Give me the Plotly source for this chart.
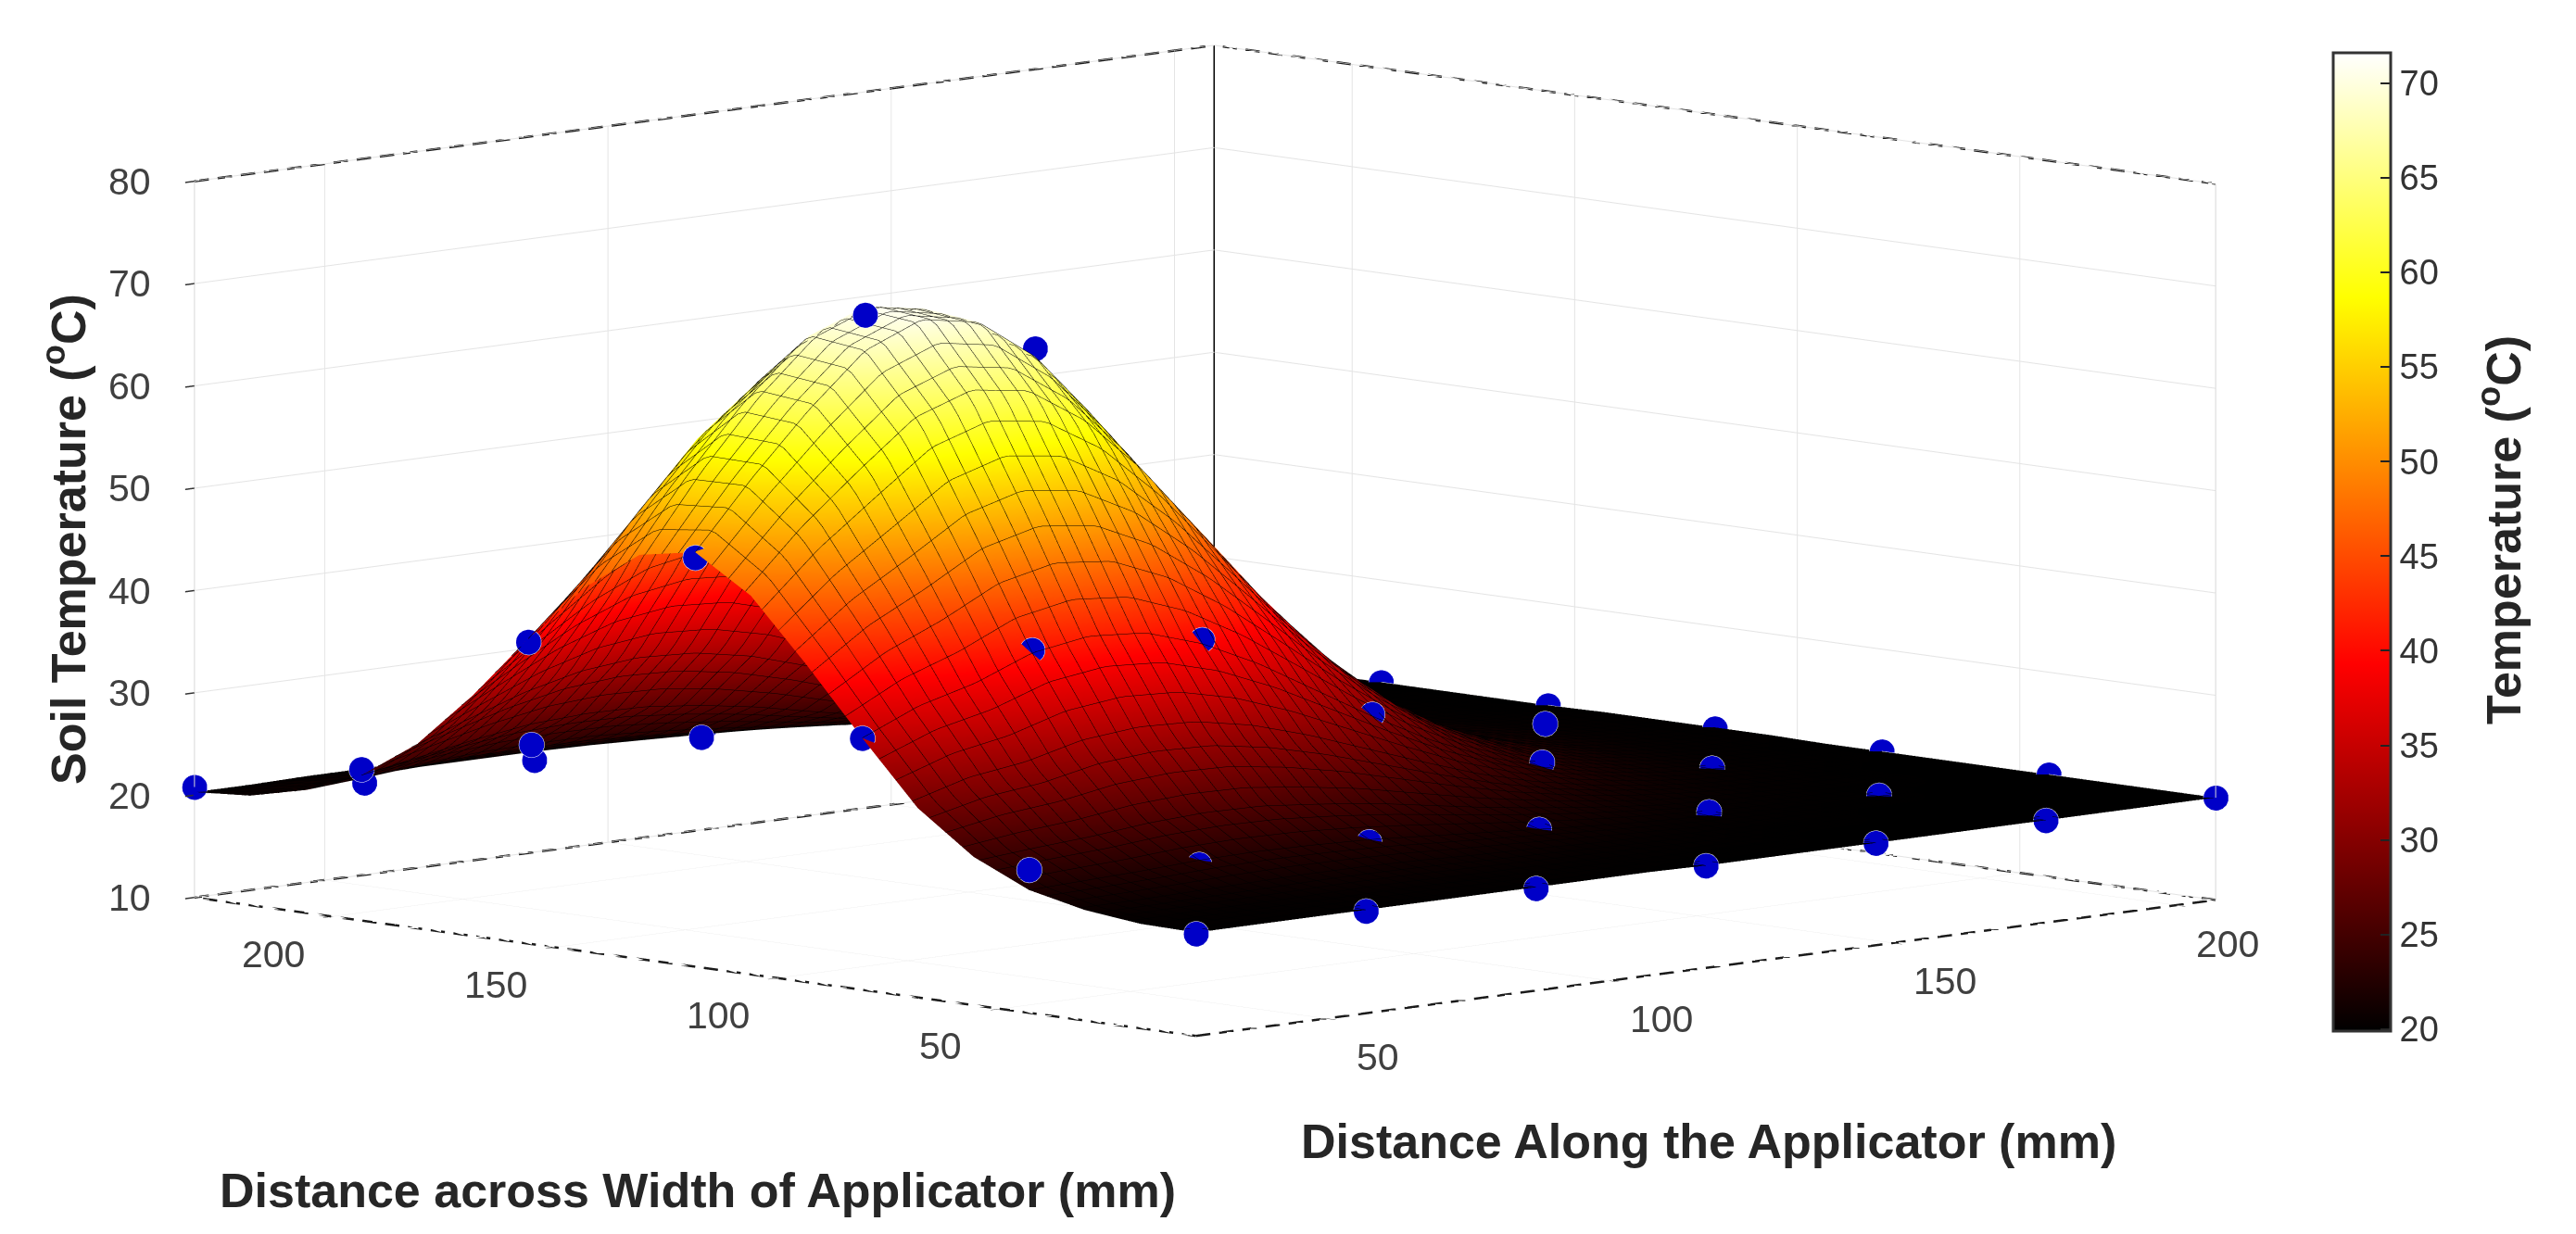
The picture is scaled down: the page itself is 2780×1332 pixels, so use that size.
import plotly.graph_objects as go
import numpy as np

x_mm = [27, 37, 47, 57, 67, 77, 87, 97, 107, 117, 127, 137, 147, 157, 167, 177, 187, 197, 207]
y_mm = [6, 18.5, 31, 43.5, 56, 68.5, 81, 93.5, 106, 118.5, 131, 143.5, 156, 168.5, 181, 193.5, 206, 218.5, 231]

# soil temperature, one row per x_mm value, one column per y_mm value
temp = [
 [20.1,20.2,20.8,22.0,24.5,28.5,34.6,41.0,47.0,50.5,49.5,45.5,39.8,33.5,28.0,24.2,22.0,20.7,20.3],
 [20.1,20.3,20.8,22.2,25.0,30.0,37.0,45.0,52.5,57.0,57.0,52.5,45.0,37.0,30.1,25.2,22.4,21.0,20.3],
 [20.1,20.3,20.9,22.4,25.4,30.7,38.5,48.0,57.1,62.9,63.5,58.6,49.9,40.3,32.1,26.2,22.9,21.1,20.4],
 [20.1,20.3,21.0,22.7,26.0,32.0,40.7,51.3,61.5,68.0,68.7,63.1,53.5,42.7,33.5,27.0,23.2,21.3,20.4],
 [20.1,20.4,21.1,22.8,26.3,32.5,41.6,52.8,63.4,70.3,70.9,65.2,55.0,43.7,34.1,27.3,23.3,21.3,20.5],
 [20.1,20.4,21.1,22.7,26.2,32.3,41.2,52.1,62.6,69.3,69.9,64.3,54.3,43.3,33.8,27.2,23.3,21.3,20.5],
 [20.1,20.3,21.0,22.5,25.6,31.3,39.4,49.4,59.0,65.2,65.8,60.6,51.5,41.3,32.7,26.6,23.0,21.2,20.4],
 [20.1,20.3,20.8,22.1,24.9,29.7,36.7,45.3,53.6,58.8,59.4,54.9,47.1,38.3,30.9,25.7,22.6,21.0,20.4],
 [20.1,20.2,20.7,21.7,23.9,27.8,33.4,40.4,47.0,51.2,51.6,48.1,41.8,34.8,28.8,24.5,22.1,20.8,20.3],
 [20.0,20.2,20.5,21.3,22.9,25.9,30.1,35.3,40.3,43.5,43.8,41.1,36.4,31.1,26.6,23.4,21.6,20.6,20.2],
 [20.0,20.1,20.4,20.9,22.1,24.1,27.1,30.8,34.3,36.6,36.8,34.9,31.6,27.8,24.7,22.4,21.1,20.4,20.2],
 [20.0,20.1,20.2,20.6,21.4,22.7,24.7,27.1,29.4,30.9,31.1,29.8,27.6,25.2,23.1,21.6,20.7,20.3,20.1],
 [20.0,20.0,20.1,20.4,20.8,21.7,22.9,24.4,25.8,26.7,26.8,26.1,24.7,23.2,21.9,21.0,20.4,20.2,20.1],
 [20.0,20.0,20.1,20.2,20.5,21.0,21.7,22.5,23.4,23.9,24.0,23.5,22.7,21.8,21.1,20.6,20.3,20.1,20.0],
 [20.0,20.0,20.0,20.1,20.3,20.5,20.9,21.4,21.9,22.1,22.2,21.9,21.5,21.0,20.6,20.3,20.1,20.1,20.0],
 [20.0,20.0,20.0,20.1,20.1,20.3,20.5,20.7,20.9,21.1,21.1,21.0,20.7,20.5,20.3,20.2,20.1,20.0,20.0],
 [20.0,20.0,20.0,20.0,20.1,20.1,20.2,20.3,20.4,20.5,20.5,20.4,20.3,20.2,20.1,20.1,20.0,20.0,20.0],
 [20.0,20.0,20.0,20.0,20.0,20.0,20.1,20.1,20.2,20.2,20.2,20.2,20.1,20.1,20.1,20.0,20.0,20.0,20.0],
 [20.0,20.0,20.0,20.0,20.0,20.0,20.0,20.0,20.1,20.1,20.1,20.1,20.0,20.0,20.0,20.0,20.0,20.0,20.0],
]

sensor_x = [27, 57, 87, 117, 147, 177, 207]
sensor_y = [6, 43.5, 81, 118.5, 156, 193.5, 231]
sensor_temp = [
 [20, 24, 34.6, 50, 39.5, 24.8, 20.8],
 [20, 22.3, 41, 71.5, 53, 25, 19],
 [20, 22.3, 39.8, 66, 59, 23.5, 19],
 [20, 21.3, 30.3, 43, 40, 27, 20],
 [20, 20.8, 23.4, 26, 27, 22, 20],
 [20, 20.2, 20.6, 22.7, 21.5, 20.5, 20],
 [20, 20, 20, 20, 20, 20, 20],
]

x_range = [27, 207]
y_range = [6, 231]
z_range = [10, 80]
x_ticks = [50, 100, 150, 200]
y_ticks = [50, 100, 150, 200]
z_ticks = [10, 20, 30, 40, 50, 60, 70, 80]
cbar_ticks = [20, 25, 30, 35, 40, 45, 50, 55, 60, 65, 70]

hot = [[0, "#000000"], [0.375, "#ff0000"], [0.75, "#ffff00"], [1, "#ffffff"]]

W, H = 2780, 1332
fig = go.Figure()
fig.add_trace(go.Surface(
    x=x_mm, y=y_mm, z=np.array(temp).T,
    colorscale=hot, cmin=19.9, cmax=71.6,
    lighting=dict(ambient=1, diffuse=0, specular=0, roughness=1, fresnel=0),
    contours=dict(
        x=dict(show=True, start=27, end=207, size=3, color="#000000", width=2),
        y=dict(show=True, start=6, end=231, size=3.75, color="#000000", width=2),
    ),
    colorbar=dict(
        x=2510 / W, xanchor="left", xpad=0, y=1 - 49 / H, yanchor="top", ypad=0,
        lenmode="pixels", len=1056, thicknessmode="pixels", thickness=62,
        tickmode="array", tickvals=cbar_ticks, ticks="inside", ticklen=12,
        tickcolor="#222222", tickwidth=2, outlinecolor="#333333", outlinewidth=3,
        tickfont=dict(family="Liberation Sans", size=38, color="#333333"),
    ),
    showlegend=False,
))

sx, sy, sz = [], [], []
for i, xv in enumerate(sensor_x):
    for j, yv in enumerate(sensor_y):
        sx.append(xv); sy.append(yv); sz.append(sensor_temp[i][j])
fig.add_trace(go.Scatter3d(
    x=sx, y=sy, z=sz, mode="markers",
    marker=dict(size=16, color="#0000c8", line=dict(color="white", width=3)),
    showlegend=False,
))


def solid_edge(a, b, color, width):
    fig.add_trace(go.Scatter3d(x=[a[0], b[0]], y=[a[1], b[1]], z=[a[2], b[2]], mode="lines",
                               line=dict(color=color, width=width),
                               hoverinfo="skip", showlegend=False))


def dashed_edge(a, b, dashes=44, on=0.62, color="#1a1a1a", width=5):
    xs, ys, zs = [], [], []
    for k in range(dashes):
        for t, in ((k / dashes,), ((k + on) / dashes,)):
            xs.append(a[0] + (b[0] - a[0]) * t)
            ys.append(a[1] + (b[1] - a[1]) * t)
            zs.append(a[2] + (b[2] - a[2]) * t)
        xs.append(None); ys.append(None); zs.append(None)
    fig.add_trace(go.Scatter3d(x=xs, y=ys, z=zs, mode="lines",
                               line=dict(color=color, width=width), connectgaps=False,
                               hoverinfo="skip", showlegend=False))


x0, x1 = x_range
y0, y1 = y_range
z0, z1 = z_range
dashed_edge((x0, y0, z0), (x1, y0, z0))
dashed_edge((x0, y0, z0), (x0, y1, z0))
dashed_edge((x0, y1, z0), (x1, y1, z0))
dashed_edge((x1, y0, z0), (x1, y1, z0))
dashed_edge((x0, y1, z1), (x1, y1, z1))
dashed_edge((x1, y0, z1), (x1, y1, z1))
solid_edge((x1, y1, z0), (x1, y1, z1), "#000000", 3)
solid_edge((x0, y1, z0), (x0, y1, z1), "#d8d8d8", 2)
solid_edge((x1, y0, z0), (x1, y0, z1), "#d8d8d8", 2)

axis_common = dict(
    showbackground=False, showgrid=True, gridcolor="#e4e4e4", gridwidth=2,
    zeroline=False, showline=False, showspikes=False, ticks="outside", ticklen=14,
    tickcolor="#333333", tickwidth=3, title="", showticklabels=False,
    tickmode="array",
)
tick_font = dict(family="Liberation Sans", size=41, color="#404040")
scene_notes = []
for v in x_ticks:
    scene_notes.append(dict(x=v, y=y0, z=z0, text=str(v), xshift=56, yshift=-41))
for v in y_ticks:
    scene_notes.append(dict(x=x0, y=v, z=z0, text=str(v), xshift=-64, yshift=-40))
for v in z_ticks:
    scene_notes.append(dict(x=x0, y=y1, z=v, text=str(v), xshift=-70, yshift=0))
for n in scene_notes:
    n.update(showarrow=False, font=tick_font, xanchor="center", yanchor="middle")

title_font = dict(family="Liberation Sans", size=52, color="#262626")
fig.update_layout(
    width=W, height=H, paper_bgcolor="white", margin=dict(l=0, r=0, t=0, b=0),
    scene=dict(
        domain=dict(x=[0, 0.9298], y=[0.122, 1]),
        aspectmode="manual", aspectratio=dict(x=2.639, y=2.639, z=1.335),
        camera=dict(projection=dict(type="orthographic"),
                    eye=dict(x=-2.973, y=-3.027, z=0.566),
                    center=dict(x=0, y=0, z=-0.0155), up=dict(x=0, y=0, z=1)),
        xaxis=dict(axis_common, range=x_range, tickvals=x_ticks),
        yaxis=dict(axis_common, range=y_range, tickvals=y_ticks),
        zaxis=dict(axis_common, range=z_range, tickvals=z_ticks),
        annotations=scene_notes,
    ),
    annotations=[
        dict(text="Distance Along the Applicator (mm)", x=1836 / W, y=1 - 1224 / H, font=title_font),
        dict(text="Distance across Width of Applicator (mm)", x=745 / W, y=1 - 1277 / H, font=title_font),
        dict(text="Soil Temperature (<sup>o</sup>C)", x=62 / W, y=1 - 574 / H, textangle=-90, font=title_font),
        dict(text="Temperature (<sup>o</sup>C)", x=2690 / W, y=1 - 564 / H, textangle=-90, font=title_font),
    ],
)
for a in fig.layout.annotations:
    a.update(xref="paper", yref="paper", showarrow=False, xanchor="center", yanchor="middle",
             text="<b>" + a.text + "</b>")

fig.write_html("out.html")
